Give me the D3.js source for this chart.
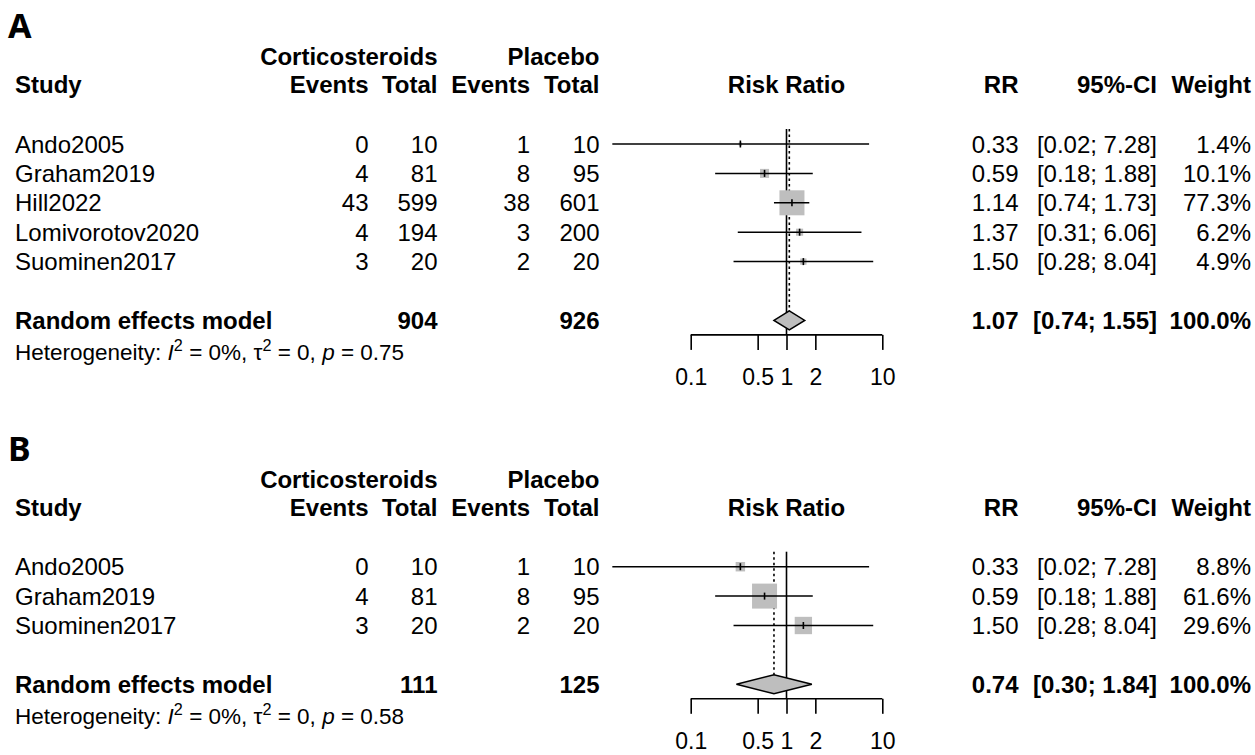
<!DOCTYPE html>
<html>
<head>
<meta charset="utf-8">
<script src="https://cdn.jsdelivr.net/npm/d3@7"></script>
<style>
  html, body { margin: 0; padding: 0; background: #fff; }
  svg { display: block; }
  text { font-family: "Liberation Sans", Arial, Helvetica, sans-serif; fill: #000; }
</style>
</head>
<body>
<svg id="chart" width="1255" height="755"></svg>
<script>
// ---------------- DATA ----------------
const panelLabels = ["A", "B"];
const groupLabels = ["Corticosteroids", "Placebo"];
const colHeaders = ["Study", "Events", "Total", "Events", "Total", "Risk Ratio", "RR", "95%-CI", "Weight"];
const tickValues = [0.1, 0.5, 1, 2, 10];
const tickLabels = ["0.1", "0.5", "1", "2", "10"];

// Panel A
const studiesA = ["Ando2005", "Graham2019", "Hill2022", "Lomivorotov2020", "Suominen2017"];
const eventsTrtA = [0, 4, 43, 4, 3];
const totalTrtA = [10, 81, 599, 194, 20];
const eventsCtlA = [1, 8, 38, 3, 2];
const totalCtlA = [10, 95, 601, 200, 20];
const rrA = [0.33, 0.59, 1.14, 1.37, 1.50];
const lowerA = [0.0152, 0.18, 0.74, 0.31, 0.28];
const upperA = [7.28, 1.88, 1.73, 6.06, 8.04];
const weightA = [1.4, 10.1, 77.3, 6.2, 4.9];
const pooledA = [1.07, 0.74, 1.55];      // estimate, lower, upper
const pooledTotalsA = [904, 926];
const heteroA = ["0%", "0", "0.75"];     // I2, tau2, p

// Panel B
const studiesB = ["Ando2005", "Graham2019", "Suominen2017"];
const eventsTrtB = [0, 4, 3];
const totalTrtB = [10, 81, 20];
const eventsCtlB = [1, 8, 2];
const totalCtlB = [10, 95, 20];
const rrB = [0.33, 0.59, 1.50];
const lowerB = [0.0152, 0.18, 0.28];
const upperB = [7.28, 1.88, 8.04];
const weightB = [8.8, 61.6, 29.6];
const pooledB = [0.74, 0.30, 1.84];
const pooledTotalsB = [111, 125];
const heteroB = ["0%", "0", "0.58"];

// ---------------- LAYOUT ----------------
const svg = d3.select("#chart");
const FS = 24;          // main font size
const FS_AX = 23;       // axis tick labels
const FS_HET = 22.5;    // heterogeneity line
const ROW = 29.4;

const x = d3.scaleLog().domain([0.1, 10]).range([690.7, 882.3]);

const colX = {
  study: 15, evT: 368.5, totT: 437.5, evC: 530, totC: 599.5,
  rr: 1018.5, ci: 1157, w: 1251
};
const fmt2 = v => v.toFixed(2);
const fmtW = v => v.toFixed(1) + "%";

function txt(g, s, xx, yy, anchor, bold, size) {
  return g.append("text")
    .attr("x", xx).attr("y", yy)
    .attr("text-anchor", anchor || "start")
    .attr("font-weight", bold ? "bold" : "normal")
    .attr("font-size", size || FS)
    .text(s);
}

function drawPanel(p, offsetY) {
  const g = svg.append("g").attr("transform", `translate(0,${offsetY})`);
  // panel letter
  g.append("text").attr("x", 8).attr("y", 38)
    .style("font-family", "'Noto Sans', 'DejaVu Sans', sans-serif")
    .attr("font-weight", "bold").attr("font-size", 34).text(p.label);

  // headers
  const h1 = 65, h2 = 93;
  txt(g, groupLabels[0], colX.totT, h1, "end", true);
  txt(g, groupLabels[1], colX.totC, h1, "end", true);
  txt(g, colHeaders[0], colX.study, h2, "start", true);
  txt(g, colHeaders[1], colX.evT, h2, "end", true);
  txt(g, colHeaders[2], colX.totT, h2, "end", true);
  txt(g, colHeaders[3], colX.evC, h2, "end", true);
  txt(g, colHeaders[4], colX.totC, h2, "end", true);
  txt(g, colHeaders[5], x(1), h2, "middle", true);
  txt(g, colHeaders[6], colX.rr, h2, "end", true);
  txt(g, colHeaders[7], colX.ci, h2, "end", true);
  txt(g, colHeaders[8], colX.w, h2, "end", true);

  const y0 = 144;
  const n = p.studies.length;
  const rowY = i => y0 + i * ROW;
  const yPool = rowY(n + 1);
  const yAxis = yPool + 14.5;
  const topLine = y0 - 15;
  const maxW = d3.max(p.weight);
  const sq = w => 25 * Math.sqrt(w / maxW);
  const TB = 8.5; // text baseline offset

  // reference line at 1
  g.append("line").attr("x1", x(1)).attr("x2", x(1))
    .attr("y1", topLine).attr("y2", yAxis)
    .attr("stroke", "#000").attr("stroke-width", 1.6);
  // pooled estimate dotted line
  g.append("line").attr("x1", x(p.pooled[0])).attr("x2", x(p.pooled[0]))
    .attr("y1", topLine).attr("y2", yPool - 9.5)
    .attr("stroke", "#000").attr("stroke-width", 1.6)
    .attr("stroke-dasharray", "2.5,3");

  p.studies.forEach((s, i) => {
    const yy = rowY(i);
    const sz = sq(p.weight[i]);
    g.append("rect").attr("x", x(p.rr[i]) - sz / 2).attr("y", yy - sz / 2)
      .attr("width", sz).attr("height", sz).attr("fill", "#bebebe");
    g.append("line").attr("x1", x(p.lower[i])).attr("x2", x(p.upper[i]))
      .attr("y1", yy).attr("y2", yy).attr("stroke", "#000").attr("stroke-width", 1.5);
    g.append("line").attr("x1", x(p.rr[i])).attr("x2", x(p.rr[i]))
      .attr("y1", yy - 3.5).attr("y2", yy + 3.5).attr("stroke", "#000").attr("stroke-width", 1.6);
    txt(g, s, colX.study, yy + TB, "start");
    txt(g, p.evT[i], colX.evT, yy + TB, "end");
    txt(g, p.totT[i], colX.totT, yy + TB, "end");
    txt(g, p.evC[i], colX.evC, yy + TB, "end");
    txt(g, p.totC[i], colX.totC, yy + TB, "end");
    txt(g, fmt2(p.rr[i]), colX.rr, yy + TB, "end");
    txt(g, `[${fmt2(p.lower[i])}; ${fmt2(p.upper[i])}]`, colX.ci, yy + TB, "end");
    txt(g, fmtW(p.weight[i]), colX.w, yy + TB, "end");
  });

  // pooled diamond
  const [pe, pl, pu] = p.pooled;
  const dh = 9.5;
  g.append("polygon")
    .attr("points", [[x(pl), yPool], [x(pe), yPool - dh], [x(pu), yPool], [x(pe), yPool + dh]].map(d => d.join(",")).join(" "))
    .attr("fill", "#bebebe").attr("stroke", "#000").attr("stroke-width", 1.5);

  txt(g, "Random effects model", colX.study, yPool + TB, "start", true);
  txt(g, p.pooledTotals[0], colX.totT, yPool + TB, "end", true);
  txt(g, p.pooledTotals[1], colX.totC, yPool + TB, "end", true);
  txt(g, fmt2(pe), colX.rr, yPool + TB, "end", true);
  txt(g, `[${fmt2(pl)}; ${fmt2(pu)}]`, colX.ci, yPool + TB, "end", true);
  txt(g, "100.0%", colX.w, yPool + TB, "end", true);

  // heterogeneity
  const ht = g.append("text").attr("x", colX.study).attr("y", yPool + 40).attr("font-size", FS_HET);
  ht.append("tspan").text("Heterogeneity: ");
  ht.append("tspan").attr("font-style", "italic").text("I");
  ht.append("tspan").attr("font-size", FS_HET * 0.72).attr("dy", -9).text("2");
  ht.append("tspan").attr("dy", 9).text(` = ${p.hetero[0]}, τ`);
  ht.append("tspan").attr("font-size", FS_HET * 0.72).attr("dy", -9).text("2");
  ht.append("tspan").attr("dy", 9).text(` = ${p.hetero[1]}, `);
  ht.append("tspan").attr("font-style", "italic").text("p");
  ht.append("tspan").text(` = ${p.hetero[2]}`);

  // axis
  const axis = d3.axisBottom(x).tickValues(tickValues)
    .tickFormat((d, i) => tickLabels[i]).tickSize(15).tickSizeOuter(0).tickPadding(19);
  const ag = g.append("g").attr("transform", `translate(0,${yAxis})`).call(axis);
  ag.select(".domain").attr("stroke", "#000").attr("stroke-width", 1.6)
    .attr("d", `M${x(0.1)},0H${x(10)}`);
  ag.selectAll(".tick line").attr("stroke", "#000").attr("stroke-width", 1.6);
  ag.selectAll(".tick text").attr("font-size", FS_AX)
    .attr("font-family", "'Liberation Sans', Arial, sans-serif").attr("fill", "#000");
}

drawPanel({
  label: panelLabels[0], studies: studiesA, evT: eventsTrtA, totT: totalTrtA,
  evC: eventsCtlA, totC: totalCtlA, rr: rrA, lower: lowerA, upper: upperA,
  weight: weightA, pooled: pooledA, pooledTotals: pooledTotalsA, hetero: heteroA
}, 0);
drawPanel({
  label: panelLabels[1], studies: studiesB, evT: eventsTrtB, totT: totalTrtB,
  evC: eventsCtlB, totC: totalCtlB, rr: rrB, lower: lowerB, upper: upperB,
  weight: weightB, pooled: pooledB, pooledTotals: pooledTotalsB, hetero: heteroB
}, 422.7);
</script>
</body>
</html>
